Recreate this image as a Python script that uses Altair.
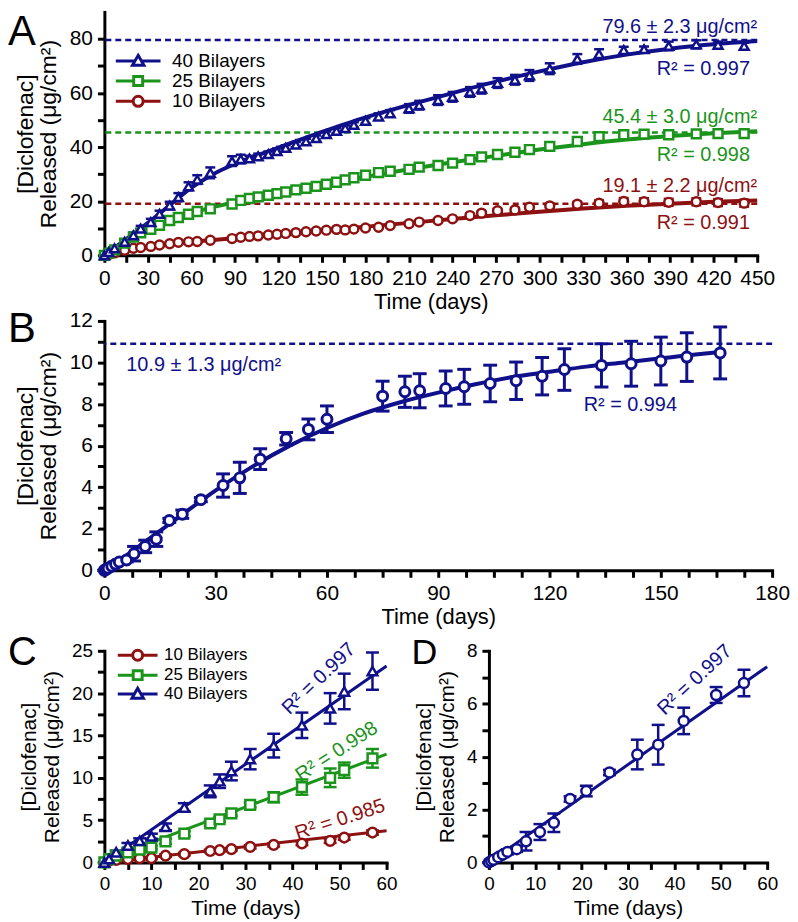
import altair as alt
import pandas as pd

FONT = "Liberation Sans"
BLUE = "#10108a"
GREEN = "#1b941b"
RED = "#8e1111"

# ---------------- Panel A data ----------------
a_days = [0, 3, 7, 14, 20, 25, 32, 38, 45, 51, 58, 64, 73, 88, 94, 100, 106, 113, 119, 125,
          132, 139, 146, 153, 160, 166, 172, 180, 189, 197, 210, 217, 230, 240, 252, 260,
          271, 283, 293, 307, 326, 341, 358, 372, 389, 408, 423, 441]
a40 = [0, 1.2, 2.6, 5.0, 7.4, 9.9, 12.3, 15.3, 18.4, 21.5, 25.5, 28.0, 30.5, 34.8, 35.6, 35.8,
       36.6, 37.4, 38.5, 39.7, 40.9, 42.1, 43.3, 44.8, 46.0, 47.0, 48.2, 49.7, 51.3, 52.5, 54.3,
       55.5, 57.4, 58.6, 60.4, 61.6, 63.7, 64.9, 66.5, 69.0, 72.6, 74.4, 75.9, 76.2, 77.4, 78.0,
       77.8, 77.4]
a40_err = [0, 0.5, 0.6, 0.8, 1.0, 1.0, 1.2, 1.2, 1.4, 1.5, 1.5, 1.6, 2.0, 1.8, 1.6, 1.0, 1.0,
           1.0, 1.0, 1.0, 1.0, 1.0, 1.0, 1.0, 1.0, 1.0, 1.0, 1.0, 1.2, 1.2, 1.6, 1.6, 1.8, 1.8,
           1.8, 1.8, 1.8, 1.8, 2.0, 2.0, 1.8, 1.8, 1.2, 1.0, 1.6, 1.5, 1.2, 1.2]
a25 = [0, 0.8, 2.0, 4.5, 6.8, 8.3, 9.6, 11.1, 12.9, 14.0, 15.2, 16.2, 17.2, 19.0, 20.3, 21.0,
       21.6, 22.2, 22.8, 23.4, 24.2, 24.8, 25.5, 26.3, 27.0, 27.9, 28.7, 29.6, 30.6, 31.1, 31.8,
       32.6, 33.2, 34.1, 35.4, 36.4, 37.3, 38.1, 39.1, 40.3, 42.1, 43.9, 44.6, 44.8, 44.6, 44.9,
       45.0, 45.0]
a25_err = [0, 0.4, 0.5, 0.6, 0.6, 0.6, 0.6, 0.6, 0.6, 0.6, 0.6, 0.6, 0.8, 0.8, 0.6, 0.6, 0.6,
           0.6, 0.6, 0.6, 0.6, 0.6, 0.6, 0.6, 0.6, 0.6, 0.6, 0.6, 0.6, 0.6, 0.6, 0.6, 0.6, 0.6,
           0.8, 0.8, 0.8, 0.8, 0.8, 0.8, 0.8, 0.8, 1.0, 1.0, 1.2, 1.2, 1.0, 1.0]
a10 = [0, 0.3, 0.9, 1.9, 2.6, 2.9, 3.3, 3.8, 4.3, 4.8, 5.0, 5.1, 5.6, 6.2, 6.7, 7.0, 7.2, 7.5,
       7.8, 8.1, 8.4, 8.7, 9.0, 9.3, 9.6, 9.4, 9.7, 10.1, 10.4, 11.0, 11.7, 12.3, 12.9, 13.5,
       14.7, 15.6, 16.5, 16.8, 17.8, 18.3, 18.9, 19.3, 19.9, 19.8, 19.6, 19.8, 19.5, 19.3]
a10_err = [0, 0.3, 0.4, 0.5, 0.5, 0.5, 0.5, 0.5, 0.5, 0.5, 0.5, 0.5, 0.5, 0.5, 0.5, 0.5, 0.5,
           0.5, 0.5, 0.5, 0.5, 0.5, 0.5, 0.5, 0.5, 0.5, 0.5, 0.5, 0.5, 0.5, 0.6, 0.6, 0.6, 0.6,
           0.6, 0.6, 0.7, 0.7, 0.8, 0.8, 0.9, 1.0, 1.3, 1.3, 1.3, 1.3, 1.3, 1.3]
a_fit_days = [0, 15, 30, 45, 60, 75, 90, 120, 150, 180, 210, 240, 270, 300, 330, 360, 390, 420, 450]
a40_fit = [0, 6, 12, 18.5, 25, 30, 33.8, 39.8, 45.6, 51, 55.6, 60, 64.2, 68, 71.4, 74.2, 76.4, 78.0, 79.2]
a25_fit = [0, 4.6, 9.0, 12.6, 15.6, 17.8, 19.6, 23.0, 26.1, 29.0, 31.8, 34.4, 36.8, 39.1, 41.1, 42.8, 44.1, 45.1, 45.9]
a10_fit = [0, 1.6, 3.0, 4.1, 5.0, 5.7, 6.3, 7.7, 9.2, 10.6, 12.0, 13.4, 14.8, 16.1, 17.3, 18.3, 19.1, 19.8, 20.3]
a_plateaus = [79.6, 45.4, 19.1]
a_plateau_labels = ["79.6 ± 2.3 μg/cm²", "45.4 ± 3.0 μg/cm²", "19.1 ± 2.2 μg/cm²"]
a_plateau_label_y = [82.2, 48.9, 23.4]
a_r2_labels = ["R² = 0.997", "R² = 0.998", "R² = 0.991"]
a_r2_y = [66.5, 34.7, 9.9]
a_series = ["40 Bilayers", "25 Bilayers", "10 Bilayers"]

# ---------------- Panel B / D data ----------------
b_days = [0, 0.5, 1, 2, 3, 4, 6, 8, 11, 14, 17.5, 21, 26, 32, 36.5, 42, 49, 55, 60, 75, 81, 85,
          92, 97, 104, 111, 118, 124, 134, 142, 150, 157, 166]
b_vals = [0, 0.05, 0.1, 0.2, 0.3, 0.4, 0.5, 0.8, 1.15, 1.5, 2.4, 2.7, 3.4, 4.08, 4.45, 5.35,
          6.33, 6.78, 7.27, 8.38, 8.59, 8.64, 8.75, 8.83, 8.99, 9.12, 9.34, 9.66, 9.86, 9.94,
          10.07, 10.26, 10.46]
b_err = [0, 0.05, 0.05, 0.08, 0.1, 0.1, 0.1, 0.35, 0.3, 0.35, 0.1, 0.2, 0.1, 0.56, 0.75, 0.5,
         0.3, 0.5, 0.64, 0.72, 0.75, 0.82, 0.84, 0.84, 0.88, 0.9, 0.9, 1.0, 1.04, 1.08, 1.15,
         1.17, 1.25]
b_fit_days = [0, 5, 10, 20, 30, 40, 50, 60, 70, 80, 90, 100, 110, 120, 130, 140, 150, 160, 166]
b_fit = [0, 0.6, 1.25, 2.55, 3.85, 5.0, 6.0, 6.85, 7.55, 8.1, 8.55, 8.95, 9.3, 9.55, 9.8, 10.0, 10.2, 10.4, 10.5]
b_plateau = 10.9
d_fit_days = [0, 60]
d_fit = [0, 7.4]

# ---------------- Panel C data ----------------
c_days = [0, 1, 2.5, 5, 7.5, 10, 13, 17, 22.5, 24.5, 27, 31, 36, 42, 48, 51, 57]
c40 = [0, 0.4, 1.2, 2.0, 2.55, 3.1, 4.2, 6.5, 8.4, 9.6, 10.8, 12.2, 13.8, 16.2, 18.2, 20.2, 22.6]
c40_err = [0, 0.2, 0.2, 0.3, 0.3, 0.3, 0.4, 0.5, 0.7, 0.8, 1.1, 1.2, 1.4, 1.5, 1.8, 2.1, 2.2]
c25 = [0, 0.4, 0.8, 1.2, 1.5, 1.75, 2.5, 3.4, 4.6, 5.1, 5.8, 6.8, 7.7, 8.9, 10.0, 10.9, 12.3]
c25_err = [0, 0.1, 0.1, 0.2, 0.2, 0.2, 0.3, 0.3, 0.3, 0.3, 0.3, 0.3, 0.6, 0.9, 1.1, 0.9, 1.1]
c10 = [0, 0.2, 0.3, 0.4, 0.5, 0.5, 0.8, 0.98, 1.35, 1.45, 1.57, 1.84, 2.08, 2.24, 2.55, 2.94, 3.53]
c10_err = [0, 0.05, 0.05, 0.1, 0.1, 0.1, 0.15, 0.15, 0.15, 0.15, 0.15, 0.2, 0.2, 0.2, 0.25, 0.25, 0.25]
c_fit_days = [0, 60]
c40_fit = [0, 23.2]
c25_fit = [0.3, 12.8]
c10_fit = [0, 3.75]
c_series = ["10 Bilayers", "25 Bilayers", "40 Bilayers"]


def pts_df(days, vals, errs, name):
    return pd.DataFrame({"t": days, "v": vals,
                         "lo": [v - e for v, e in zip(vals, errs)],
                         "hi": [v + e for v, e in zip(vals, errs)],
                         "series": name})


def axis_x(values, every, lsize, tsize, title="Time (days)"):
    return alt.Axis(values=values, labelExpr=f"datum.value % {every} === 0 ? datum.label : ''",
                    title=title, labelFontSize=lsize, titleFontSize=tsize, labelOverlap=False,
                    labelFlush=False, titlePadding=4)


def axis_y(values, every, lsize, tsize):
    return alt.Axis(values=values, labelExpr=f"datum.value % {every} === 0 ? datum.label : ''",
                    title=["[Diclofenac]", "Released (μg/cm²)"], labelFontSize=lsize,
                    titleFontSize=tsize, labelOverlap=False, titlePadding=9, titleLineHeight=23)


def series_layers(df, color, shape, size, capw, sw, X, Y):
    base = alt.Chart(df)
    bar = base.mark_rule(color=color, strokeWidth=sw, opacity=1).encode(
        x=X("t"), y=Y("lo"), y2=alt.Y2("hi:Q"))
    top = base.mark_tick(orient="horizontal", color=color, size=capw, thickness=sw, opacity=1).encode(
        x=X("t"), y=Y("hi"))
    bot = base.mark_tick(orient="horizontal", color=color, size=capw, thickness=sw, opacity=1).encode(
        x=X("t"), y=Y("lo"))
    pts = base.mark_point(shape=shape, fill="white", stroke=color, strokeWidth=sw, size=size,
                          opacity=1, fillOpacity=1).encode(x=X("t"), y=Y("v"))
    return [bar, top, bot], pts


def fit_layer(days, vals, color, sw, X, Y):
    df = pd.DataFrame({"t": days, "v": vals})
    return alt.Chart(df).mark_line(color=color, strokeWidth=sw, interpolate="monotone").encode(
        x=X("t"), y=Y("v"))


def letter(ch, x, y, size):
    return alt.Chart(pd.DataFrame({"l": [ch]})).mark_text(
        align="left", baseline="alphabetic", fontSize=size, font=FONT, color="black").encode(
        x=alt.value(x), y=alt.value(y), text="l:N")


def make_enc(xdom, ydom, xa, ya):
    xs = alt.Scale(domain=xdom, nice=False, zero=False)
    ys = alt.Scale(domain=ydom, nice=False, zero=False)
    X = lambda f: alt.X(f"{f}:Q", scale=xs, axis=xa)
    Y = lambda f: alt.Y(f"{f}:Q", scale=ys, axis=ya)
    return X, Y


# legend symbol paths (line + hollow marker), in units of 5px
def leg_paths(l0, mc):
    circ = (f"M{l0},0L{mc-1},0M{mc+1},0L1,0M{mc+1},0A1,1,0,1,1,{mc-1},0A1,1,0,1,1,{mc+1},0Z")
    sq = (f"M{l0},0L{mc-0.9},0M{mc+0.9},0L1,0M{mc-0.9},-0.9L{mc+0.9},-0.9L{mc+0.9},0.9L{mc-0.9},0.9Z")
    tri = (f"M{l0},0L{mc-0.66},0M{mc+0.66},0L1,0M{mc},-1.15L{mc+1.15},0.85L{mc-1.15},0.85Z")
    return circ, sq, tri


# ---------------- Panel A ----------------
XA, YA = make_enc([0, 450], [0, 90],
                  axis_x(list(range(0, 451, 15)), 30, 21, 22),
                  axis_y(list(range(0, 81, 10)), 20, 21, 23))
dfa40 = pts_df(a_days, a40, a40_err, a_series[0])
dfa25 = pts_df(a_days, a25, a25_err, a_series[1])
dfa10 = pts_df(a_days, a10, a10_err, a_series[2])
cols_a = [BLUE, GREEN, RED]

layers_a = []
for p, c in zip(a_plateaus, cols_a):
    layers_a.append(alt.Chart(pd.DataFrame({"v": [p]})).mark_rule(
        color=c, strokeWidth=2.5, strokeDash=[6, 4]).encode(y=YA("v")))
for fv, c in zip([a40_fit, a25_fit, a10_fit], cols_a):
    layers_a.append(fit_layer(a_fit_days, fv, c, 4, XA, YA))
pts_a = []
for df, c, sh in [(dfa10, RED, "circle"), (dfa25, GREEN, "square"), (dfa40, BLUE, "triangle-up")]:
    bars, pts = series_layers(df, c, sh, 80, 10, 2.5, XA, YA)
    layers_a += bars
    pts_a.append(pts)
layers_a += pts_a
for lab, ly, c in zip(a_plateau_labels, a_plateau_label_y, cols_a):
    layers_a.append(alt.Chart(pd.DataFrame({"t": [450], "v": [ly], "s": [lab]})).mark_text(
        align="right", baseline="alphabetic", fontSize=20, font=FONT, color=c).encode(
        x=XA("t"), y=YA("v"), text="s:N"))
for lab, ly, c in zip(a_r2_labels, a_r2_y, cols_a):
    layers_a.append(alt.Chart(pd.DataFrame({"t": [445], "v": [ly], "s": [lab]})).mark_text(
        align="right", baseline="alphabetic", fontSize=20, font=FONT, color=c).encode(
        x=XA("t"), y=YA("v"), text="s:N"))
circ, sq, tri = leg_paths(-8, -3.5)
leg_a = alt.Legend(orient="none", legendX=42, legendY=40, title=None, labelFont=FONT,
                   labelFontSize=19, labelColor="black", symbolSize=100, symbolStrokeWidth=3,
                   symbolOpacity=1, labelOffset=7, rowPadding=-1.5)
layers_a.append(alt.Chart(pd.concat([dfa40, dfa25, dfa10])).mark_point(opacity=0).encode(
    x=XA("t"), y=YA("v"),
    color=alt.Color("series:N", scale=alt.Scale(domain=a_series, range=cols_a), legend=leg_a),
    shape=alt.Shape("series:N", scale=alt.Scale(domain=a_series, range=[tri, sq, circ]), legend=leg_a)))
layers_a.append(letter("A", -97, 33, 42))
panel_a = alt.layer(*layers_a).properties(width=657, height=245)

# ---------------- Panel B ----------------
XB, YB = make_enc([0, 180], [0, 12],
                  axis_x([i * 7.5 for i in range(25)], 30, 21, 22),
                  axis_y(list(range(0, 13)), 2, 21, 23))
dfb = pts_df(b_days, b_vals, b_err, "b")
layers_b = [alt.Chart(pd.DataFrame({"v": [b_plateau]})).mark_rule(
    color=BLUE, strokeWidth=2.5, strokeDash=[6, 4]).encode(y=YB("v")),
    fit_layer(b_fit_days, b_fit, BLUE, 4, XB, YB)]
bars, pts = series_layers(dfb, BLUE, "circle", 100, 14, 3, XB, YB)
layers_b += bars + [pts]
layers_b.append(alt.Chart(pd.DataFrame({"t": [5.9], "v": [9.6], "s": ["10.9 ± 1.3 μg/cm²"]})).mark_text(
    align="left", baseline="alphabetic", fontSize=20, font=FONT, color=BLUE).encode(
    x=XB("t"), y=YB("v"), text="s:N"))
layers_b.append(alt.Chart(pd.DataFrame({"t": [129.2], "v": [7.65], "s": ["R² = 0.994"]})).mark_text(
    align="left", baseline="alphabetic", fontSize=20, font=FONT, color=BLUE).encode(
    x=XB("t"), y=YB("v"), text="s:N"))
layers_b.append(letter("B", -97, 21, 42))
panel_b = alt.layer(*layers_b).properties(width=672, height=251)

# ---------------- Panel C ----------------
XC, YC = make_enc([0, 60], [0, 25],
                  axis_x(list(range(0, 61, 5)), 10, 19, 21),
                  axis_y([i * 2.5 for i in range(11)], 5, 19, 21))
dfc10 = pts_df(c_days, c10, c10_err, c_series[0])
dfc25 = pts_df(c_days, c25, c25_err, c_series[1])
dfc40 = pts_df(c_days, c40, c40_err, c_series[2])
cols_c = [RED, GREEN, BLUE]
layers_c = []
for fv, c in zip([c10_fit, c25_fit, c40_fit], cols_c):
    layers_c.append(fit_layer(c_fit_days, fv, c, 3, XC, YC))
pts_c = []
for df, c, sh in [(dfc10, RED, "circle"), (dfc25, GREEN, "square"), (dfc40, BLUE, "triangle-up")]:
    bars, pts = series_layers(df, c, sh, 95, 13, 2.5, XC, YC)
    layers_c += bars
    pts_c.append(pts)
layers_c += pts_c
for lab, tx, ty, ang, c in [("R² = 0.985", 50.1, 5.05, 342, RED),
                            ("R² = 0.998", 49.4, 13.1, 327, GREEN),
                            ("R² = 0.997", 45.6, 21.7, 316, BLUE)]:
    layers_c.append(alt.Chart(pd.DataFrame({"t": [tx], "v": [ty], "s": [lab]})).mark_text(
        align="center", baseline="middle", fontSize=20, font=FONT, color=c, angle=ang).encode(
        x=XC("t"), y=YC("v"), text="s:N"))
circ_c, sq_c, tri_c = leg_paths(-7, -3)
leg_c = alt.Legend(orient="none", legendX=40, legendY=-4, title=None, labelFont=FONT,
                   labelFontSize=17, labelColor="black", symbolSize=100, symbolStrokeWidth=3,
                   symbolOpacity=1, labelOffset=3, rowPadding=-5)
layers_c.append(alt.Chart(pd.concat([dfc10, dfc25, dfc40])).mark_point(opacity=0).encode(
    x=XC("t"), y=YC("v"),
    color=alt.Color("series:N", scale=alt.Scale(domain=c_series, range=cols_c), legend=leg_c),
    shape=alt.Shape("series:N", scale=alt.Scale(domain=c_series, range=[circ_c, sq_c, tri_c]), legend=leg_c)))
layers_c.append(letter("C", -97, 14, 40))
panel_c = alt.layer(*layers_c).properties(width=284, height=213)

# ---------------- Panel D ----------------
XD, YD = make_enc([0, 60], [0, 8],
                  axis_x(list(range(0, 61, 5)), 10, 19, 21),
                  axis_y(list(range(0, 9)), 2, 19, 21))
dfd = dfb[dfb["t"] <= 57]
layers_d = [fit_layer(d_fit_days, d_fit, BLUE, 3, XD, YD)]
bars, pts = series_layers(dfd, BLUE, "circle", 100, 13, 2.5, XD, YD)
layers_d += bars + [pts]
layers_d.append(alt.Chart(pd.DataFrame({"t": [44.4], "v": [6.9], "s": ["R² = 0.997"]})).mark_text(
    align="center", baseline="middle", fontSize=20, font=FONT, color=BLUE, angle=317).encode(
    x=XD("t"), y=YD("v"), text="s:N"))
layers_d.append(letter("D", -78, 13, 36))
panel_d = alt.layer(*layers_d).properties(width=280, height=213)

chart = alt.vconcat(
    alt.vconcat(panel_a, panel_b, spacing=-5),
    alt.hconcat(panel_c, panel_d, spacing=14),
    spacing=5
).resolve_scale(color="independent", shape="independent").resolve_legend(
    color="independent", shape="independent"
).properties(padding=0).configure_view(
    stroke=None).configure_axis(
    domainWidth=3, domainColor="black", tickWidth=3, tickColor="black", tickSize=7,
    labelFont=FONT, titleFont=FONT, labelColor="black", titleColor="black", grid=False,
    labelPadding=5, titleFontWeight="normal", domainCap="square")

chart.save("out.html", embed_options={"renderer": "svg", "actions": False})
